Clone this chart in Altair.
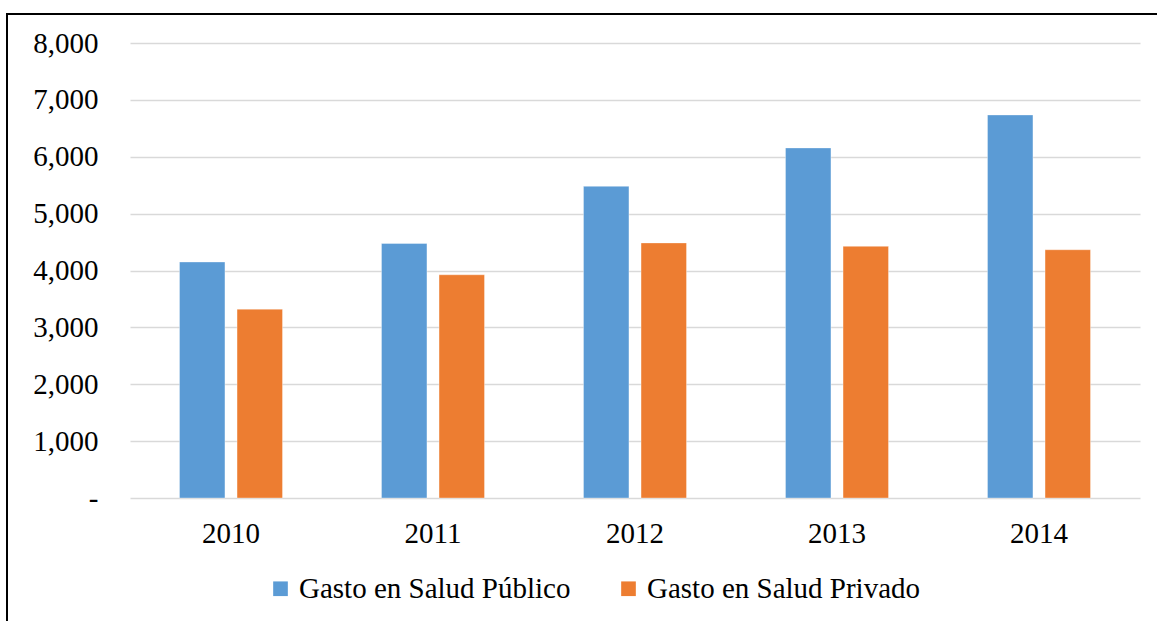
import altair as alt
import pandas as pd

years = ["2010", "2011", "2012", "2013", "2014"]
publico = [4150, 4475, 5480, 6155, 6735]
privado = [3320, 3925, 4485, 4425, 4365]
series = ["Gasto en Salud Público", "Gasto en Salud Privado"]
colors = ["#5b9bd5", "#ed7d31"]

rows = []
for i, y in enumerate(years):
    rows.append({"year": y, "serie": series[0], "value": publico[i]})
    rows.append({"year": y, "serie": series[1], "value": privado[i]})
df = pd.DataFrame(rows)

font = "Liberation Serif"

bars = alt.Chart(df).mark_bar(stroke="white", strokeOpacity=0.35, strokeWidth=1).encode(
    x=alt.X("year:N", sort=years, title=None,
            scale=alt.Scale(paddingInner=0.49, paddingOuter=0.245),
            axis=alt.Axis(labelAngle=0, labelFontSize=29, labelFont=font, labelColor="black",
                          ticks=False, domain=False, labelPadding=21)),
    xOffset=alt.XOffset("serie:N", sort=series,
                        scale=alt.Scale(paddingInner=0.21, paddingOuter=0)),
    y=alt.Y("value:Q", title=None,
            scale=alt.Scale(domain=[0, 8000]),
            axis=alt.Axis(values=[0, 1000, 2000, 3000, 4000, 5000, 6000, 7000, 8000],
                          labelExpr="datum.value == 0 ? '-' : format(datum.value, ',')",
                          labelFontSize=29, labelFont=font, labelColor="black",
                          ticks=False, domain=False, labelPadding=32,
                          gridColor="#d9d9d9", gridWidth=1.5)),
    color=alt.Color("serie:N", sort=series,
                    scale=alt.Scale(domain=series, range=colors),
                    legend=alt.Legend(title=None, orient="none", direction="horizontal",
                                      legendX=136, legendY=531,
                                      labelFont=font, labelFontSize=29, labelColor="black",
                                      labelLimit=0,
                                      symbolType="square", symbolSize=215,
                                      symbolStrokeWidth=0, columnPadding=43,
                                      labelOffset=4)),
)

border = alt.Chart(pd.DataFrame({"a": [0]})).mark_rect(
    fill=None, stroke="black", strokeWidth=2
).encode(
    x=alt.value(-123), x2=alt.value(1200), y=alt.value(-29), y2=alt.value(700)
)

chart = alt.layer(bars, border).properties(
    width=1010, height=455,
    autosize=alt.AutoSizeParams(type="none"),
    padding={"left": 130, "top": 43, "right": 17, "bottom": 123},
    background="white",
).configure_view(stroke=None)

chart.save("out.html", embed_options={"renderer": "svg", "actions": False})
